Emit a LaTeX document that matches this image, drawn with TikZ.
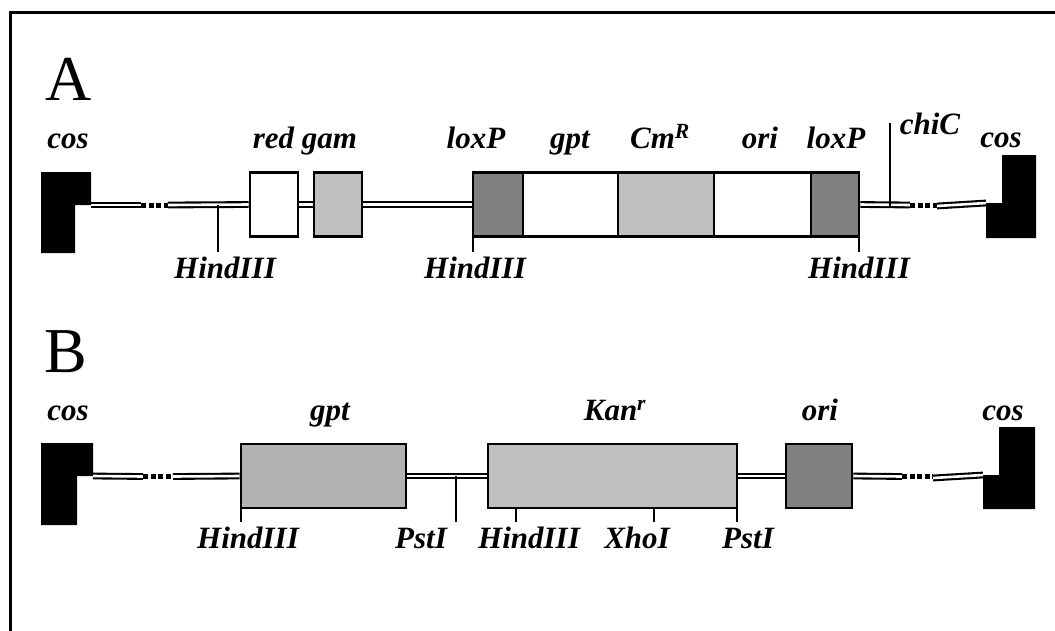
\documentclass[tikz,border=0pt]{standalone}
\usepackage{fontspec}
\setmainfont{Liberation Serif}
\definecolor{dk}{HTML}{808080}
\definecolor{lt}{HTML}{C0C0C0}
\definecolor{md}{HTML}{B2B2B2}
\tikzset{
  gene/.style={draw, line width=2.6pt, minimum height=64pt, inner sep=0pt, outer sep=1.3pt},
  dna/.style={double, double distance=2.6pt, line width=2.1pt},
  dots/.style={line width=5pt, dash pattern=on 5pt off 2.6pt},
  tickline/.style={line width=2pt},
  lab/.style={font=\fontsize{31}{31}\selectfont\bfseries\itshape, anchor=base, inner sep=0pt},
  big/.style={font=\fontsize{64}{64}\selectfont, anchor=base, inner sep=0pt},
  cosend/.style={fill=black},
}
\begin{document}
\begin{tikzpicture}[x=1pt,y=-1pt]
\useasboundingbox (0,0) rectangle (1055,630);
% frame
\draw[line width=3pt] (1056,12) -- (10.5,12) -- (10.5,631);

% ================= A =================
\node[big] (labA) at (69,100) {A};

% cos ends
\fill[cosend] (41,172) -- (91,172) -- (91,205) -- (75,205) -- (75,253) -- (41,253) -- cycle;
\coordinate (cosAL) at (91,205);
\fill[cosend] (1002,155) -- (1036,155) -- (1036,238) -- (986,238) -- (986,203) -- (1002,203) -- cycle;
\coordinate (cosAR) at (986,203);

% genes
\node[gene, fill=white, minimum width=48pt] (red) at (274,204.5) {};
\node[gene, fill=lt, minimum width=48pt] (gam) at (338,204.5) {};
\node[gene, fill=dk, minimum width=50pt] (loxL) at (498,204.5) {};
\node[gene, fill=white, minimum width=95pt] (gptA) at (570.5,204.5) {};
\node[gene, fill=lt, minimum width=96pt] (cm) at (666,204.5) {};
\node[gene, fill=white, minimum width=97pt] (oriA) at (762.5,204.5) {};
\node[gene, fill=dk, minimum width=48pt] (loxR) at (835,204.5) {};

% DNA
\coordinate (a1) at (141,205);
\coordinate (a2) at (168,205);
\coordinate (a3) at (910,205);
\coordinate (a4) at (937,206);
\draw[dna] (cosAL) -- (a1);
\draw[dots] (a1) -- (a2);
\draw[dna] (a2) -- (red.west);
\draw[dna] (red.east) -- (gam.west);
\draw[dna] (gam.east) -- (loxL.west);
\draw[dna] (loxR.east) -- (a3);
\draw[dots] (a3) -- (a4 |- a3);
\draw[dna] (a4) -- (cosAR);

% ticks A
\coordinate (hA1) at (218,205);
\coordinate (hA1e) at (218,252);
\draw[tickline] (hA1) -- (hA1e);
\coordinate (hA2) at (473,236);
\coordinate (hA2e) at (473,252);
\draw[tickline] (hA2) -- (hA2e);
\coordinate (hA3) at (859,236);
\coordinate (hA3e) at (859,252);
\draw[tickline] (hA3) -- (hA3e);
\coordinate (chi1) at (890,208);
\coordinate (chi2) at (890,123);
\draw[tickline] (chi1) -- (chi2);

% labels A
\node[lab] (tcosAL) at (68,148) {cos};
\node[lab] (tred) at (305,148) {red gam};
\node[lab] (tloxL) at (476,148) {loxP};
\node[lab] (tgptA) at (570,148) {gpt};
\node[lab] (tcm) at (660,148) {Cm\textsuperscript{R}};
\node[lab] (toriA) at (760,148) {ori};
\node[lab] (tloxR) at (836,148) {loxP};
\node[lab] (tcosAR) at (1001,147) {cos};
\node[lab] (tchi) at (930,134) {chiC};
\node[lab] (thA1) at (225,278) {HindIII};
\node[lab] (thA2) at (475,278) {HindIII};
\node[lab] (thA3) at (859,278) {HindIII};

% ================= B =================
\node[big] (labB) at (66,372) {B};

\fill[cosend] (41,443) -- (93,443) -- (93,476) -- (77,476) -- (77,525) -- (41,525) -- cycle;
\coordinate (cosBL) at (93,476);
\fill[cosend] (999,427) -- (1035,427) -- (1035,509) -- (983,509) -- (983,475) -- (999,475) -- cycle;
\coordinate (cosBR) at (983,475);

\node[gene, fill=md, minimum width=165pt] (gptB) at (323.5,476) {};
\node[gene, fill=lt, minimum width=249pt] (kan) at (612.5,476) {};
\node[gene, fill=dk, minimum width=66pt] (oriB) at (819,476) {};

\coordinate (b1) at (143,476.5);
\coordinate (b2) at (173,476.5);
\coordinate (b3) at (902,476.5);
\coordinate (b4) at (933,478);
\draw[dna] (cosBL) -- (b1);
\draw[dots] (b1) -- (b2);
\draw[dna] (b2) -- (gptB.west);
\draw[dna] (gptB.east) -- (kan.west);
\draw[dna] (kan.east) -- (oriB.west);
\draw[dna] (oriB.east) -- (b3);
\draw[dots] (b3) -- (b4 |- b3);
\draw[dna] (b4) -- (cosBR);

% ticks B
\coordinate (hB1) at (241,508); \coordinate (hB1e) at (241,522);
\draw[tickline] (hB1) -- (hB1e);
\coordinate (pB1) at (456,476); \coordinate (pB1e) at (456,522);
\draw[tickline] (pB1) -- (pB1e);
\coordinate (hB2) at (516,509); \coordinate (hB2e) at (516,522);
\draw[tickline] (hB2) -- (hB2e);
\coordinate (xB) at (654,509); \coordinate (xBe) at (654,522);
\draw[tickline] (xB) -- (xBe);
\coordinate (pB2) at (737,509); \coordinate (pB2e) at (737,522);
\draw[tickline] (pB2) -- (pB2e);

% labels B
\node[lab] (tcosBL) at (68,420) {cos};
\node[lab] (tgptB) at (330,420) {gpt};
\node[lab] (tkan) at (615,420) {Kan\textsuperscript{r}};
\node[lab] (toriB) at (820,420) {ori};
\node[lab] (tcosBR) at (1003,420) {cos};
\node[lab] (thB1) at (248,548) {HindIII};
\node[lab] (tpB1) at (421,548) {PstI};
\node[lab] (thB2) at (529,548) {HindIII};
\node[lab] (txB) at (637,548) {XhoI};
\node[lab] (tpB2) at (748,548) {PstI};
\end{tikzpicture}
\end{document}
